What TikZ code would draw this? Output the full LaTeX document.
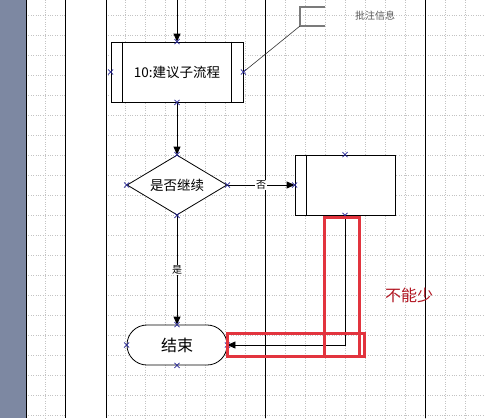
\documentclass[tikz,border=0pt]{standalone}
\usepackage{fontspec}
\newfontfamily\cjk{Noto Sans CJK SC}
\usetikzlibrary{arrows.meta,shapes.geometric,shapes.misc}
\definecolor{strip}{RGB}{125,136,162}
\definecolor{gridc}{RGB}{195,195,195}
\definecolor{redbox}{RGB}{226,52,62}
\definecolor{redtxt}{RGB}{178,22,34}
\definecolor{mkc}{RGB}{40,40,150}
\definecolor{notec}{RGB}{90,90,90}
\begin{document}
\begin{tikzpicture}[x=1pt,y=-1pt,
  gridl/.style={gridc,line width=0.6pt,dash pattern=on 1pt off 1.4pt},
  lane/.style={black,line width=1pt},
  conn/.style={black,line width=0.8pt},
  arr/.style={conn,-{Triangle[length=8pt,width=7pt]}},
  subbox/.style={draw,line width=0.8pt,rectangle,minimum width=132pt,minimum height=60pt,inner sep=0pt,fill=white,font=\cjk\fontsize{13.5}{13.5}\selectfont},
  procbox/.style={draw,line width=0.8pt,rectangle,minimum width=100pt,minimum height=60pt,inner sep=0pt,fill=white},
  dia/.style={draw,line width=0.8pt,diamond,aspect=1.6667,minimum width=100pt,minimum height=60pt,inner sep=0pt,fill=white,font=\cjk\fontsize{13.5}{13.5}\selectfont},
  term/.style={draw,line width=0.8pt,rectangle,rounded corners=19.9pt,minimum width=100pt,minimum height=40pt,inner sep=0pt,fill=white,font=\cjk\fontsize{16}{16}\selectfont},
  lbl/.style={fill=white,inner sep=1pt,font=\cjk\fontsize{10}{10}\selectfont},
  mk/.style={cross out,draw=mkc,line width=0.6pt,minimum size=4.5pt,inner sep=0pt},
  redr/.style={draw=redbox,line width=3pt},
  ann/.style={draw=notec!80,line width=1.6pt}
]
\useasboundingbox (0,0) rectangle (484,418);
% background
\fill[white] (0,0) rectangle (484,418);
\fill[strip] (0,0) rectangle (26,418);
% grid
\foreach \y in {15,35,...,415} {
  \draw[gridl] (26,\y) -- (65,\y);
  \draw[gridl] (106,\y) -- (484,\y);
}
\foreach \x in {45,125,145,...,465} {
  \draw[gridl] (\x,0) -- (\x,418);
}
% swimlane lines
\foreach \x in {26.5,65,106,265,425} {
  \draw[lane] (\x,0) -- (\x,418);
}
% nodes
\node[subbox] (sp) at (177,72) {10:建议子流程};
\draw[conn] ([xshift=12pt]sp.north west) -- ([xshift=12pt]sp.south west);
\draw[conn] ([xshift=-12pt]sp.north east) -- ([xshift=-12pt]sp.south east);
\node[dia] (dc) at (177,185) {是否继续};
\node[procbox] (b2) at (345,185) {};
\draw[conn] ([xshift=12pt]b2.north west) -- ([xshift=12pt]b2.south west);
\node[term] (end) at (177,345) {结束};
% annotation
\coordinate (bt) at (300,7);
\coordinate (bb) at (300,26);
\coordinate (btr) at (325,7);
\coordinate (bbr) at (325,26);
\draw[ann] (btr) -- (bt) -- (bb) -- (bbr);
\draw[black!80,line width=0.6pt] (sp.east) -- (bb);
\node[font=\cjk\fontsize{10}{10}\selectfont,text=notec] (nt) at (375,16) {批注信息};
% connectors
\coordinate (topin) at (177,0);
\draw[arr] (topin) -- (sp.north);
\draw[arr] (sp.south) -- (dc.north);
\draw[arr] (dc.east) -- node[lbl] (no) {否} (b2.west);
\draw[arr] (dc.south) -- node[lbl] (yes) {是} (end.north);
\draw[arr] (b2.south) |- (end.east);
% markers
\foreach \a [count=\i] in {sp.north,sp.west,sp.east,sp.south,dc.north,dc.west,dc.east,dc.south,b2.north,b2.west,b2.south,end.north,end.west,end.east,end.south} {
  \node[mk] (mk\i) at (\a) {};
}
% red highlight
\draw[redr] (324,217) rectangle (359,356);
\draw[redr] (227.5,333) rectangle (364,356);
\node[font=\cjk\fontsize{16}{16}\selectfont,text=redtxt] (warn) at (409,295) {不能少};
\end{tikzpicture}
\end{document}
